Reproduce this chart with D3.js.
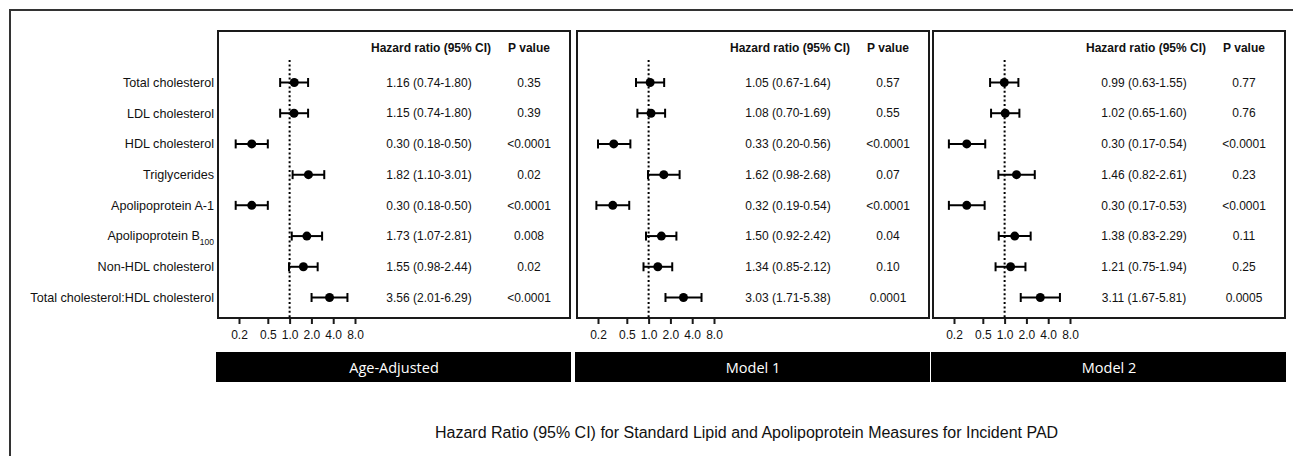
<!DOCTYPE html>
<html>
<head>
<meta charset="utf-8">
<script src="https://cdn.jsdelivr.net/npm/d3@7"></script>
<style>
  body { margin: 0; background: #fff; }
  text { font-family: "Liberation Sans", Arial, sans-serif; fill: #111; }
</style>
</head>
<body>
<script>
// rows of the forest plot
var measures = ["Total cholesterol", "LDL cholesterol", "HDL cholesterol", "Triglycerides",
  "Apolipoprotein A-1", "Apolipoprotein B", "Non-HDL cholesterol", "Total cholesterol:HDL cholesterol"];
var models = ["Age-Adjusted", "Model 1", "Model 2"];

// Age-adjusted
var hrAge  = [1.16, 1.15, 0.30, 1.82, 0.30, 1.73, 1.55, 3.56];
var loAge  = [0.74, 0.74, 0.18, 1.10, 0.18, 1.07, 0.98, 2.01];
var hiAge  = [1.80, 1.80, 0.50, 3.01, 0.50, 2.81, 2.44, 6.29];
var pAge   = ["0.35", "0.39", "<0.0001", "0.02", "<0.0001", "0.008", "0.02", "<0.0001"];
// Model 1
var hrM1   = [1.05, 1.08, 0.33, 1.62, 0.32, 1.50, 1.34, 3.03];
var loM1   = [0.67, 0.70, 0.20, 0.98, 0.19, 0.92, 0.85, 1.71];
var hiM1   = [1.64, 1.69, 0.56, 2.68, 0.54, 2.42, 2.12, 5.38];
var pM1    = ["0.57", "0.55", "<0.0001", "0.07", "<0.0001", "0.04", "0.10", "0.0001"];
// Model 2
var hrM2   = [0.99, 1.02, 0.30, 1.46, 0.30, 1.38, 1.21, 3.11];
var loM2   = [0.63, 0.65, 0.17, 0.82, 0.17, 0.83, 0.75, 1.67];
var hiM2   = [1.55, 1.60, 0.54, 2.61, 0.53, 2.29, 1.94, 5.81];
var pM2    = ["0.77", "0.76", "<0.0001", "0.23", "<0.0001", "0.11", "0.25", "0.0005"];

var tickValues = [0.2, 0.5, 1.0, 2.0, 4.0, 8.0];
var title = "Hazard Ratio (95% CI) for Standard Lipid and Apolipoprotein Measures for Incident PAD";

var Width = 1293, Height = 456;
var panelLeft = [218, 577, 933], panelW = 352, panelTop = 31, panelBottom = 318;

var svg = d3.select("body").append("svg")
  .attr("width", Width)
  .attr("height", Height);

// outer frame (runs off the picture at right and bottom)
svg.append("rect")
  .attr("x", 10).attr("y", 10)
  .attr("width", 1300).attr("height", 460)
  .attr("fill", "none").attr("stroke", "#333").attr("stroke-width", 2);

var y = d3.scalePoint().domain(measures).range([82.5, 297.5]);

// row labels
svg.selectAll(".rowlab").data(measures).enter().append("text")
  .attr("class", "rowlab")
  .attr("x", 214)
  .attr("y", function(d) { return y(d); })
  .attr("dy", "0.35em")
  .attr("text-anchor", "end")
  .style("font-size", "12.6px")
  .each(function(d) {
    var t = d3.select(this);
    t.append("tspan").text(d);
    if (d == "Apolipoprotein B") {
      t.append("tspan").text("100").attr("baseline-shift", "sub").style("font-size", "8.5px");
    }
  });

var sets = [
  { hr: hrAge, lo: loAge, hi: hiAge, p: pAge },
  { hr: hrM1, lo: loM1, hi: hiM1, p: pM1 },
  { hr: hrM2, lo: loM2, hi: hiM2, p: pM2 }
];

models.forEach(function(name, m) {
  var left = panelLeft[m];
  var s = sets[m];
  var g = svg.append("g");

  var x = d3.scaleLog().domain([0.2, 8]).range([left + 21, left + 137]);

  // panel frame
  g.append("rect")
    .attr("x", left).attr("y", panelTop)
    .attr("width", panelW).attr("height", panelBottom - panelTop)
    .attr("fill", "none").attr("stroke", "#1a1a1a").attr("stroke-width", 2);

  // reference line at 1.0
  g.append("line")
    .attr("x1", x(1)).attr("x2", x(1))
    .attr("y1", 60).attr("y2", panelBottom)
    .attr("stroke", "#000").attr("stroke-width", 2)
    .attr("stroke-dasharray", "2,2.4");

  // axis
  var axis = d3.axisBottom(x)
    .tickValues(tickValues)
    .tickFormat(d3.format(".1f"))
    .tickSize(6)
    .tickSizeOuter(0);
  var ax = g.append("g")
    .attr("transform", "translate(0," + panelBottom + ")")
    .call(axis);
  ax.select(".domain").remove();
  ax.selectAll(".tick line").attr("stroke", "#1a1a1a").attr("stroke-width", 2);
  ax.selectAll(".tick text")
    .attr("y", 12)
    .style("font-size", "12px")
    .style("font-family", "'Liberation Sans', Arial, sans-serif")
    .attr("fill", "#222");

  // headers
  g.append("text")
    .attr("x", left + 213).attr("y", 47.5).attr("dy", "0.35em")
    .attr("text-anchor", "middle")
    .style("font-size", "12px").style("font-weight", "bold")
    .text("Hazard ratio (95% CI)");
  g.append("text")
    .attr("x", left + 311).attr("y", 47.5).attr("dy", "0.35em")
    .attr("text-anchor", "middle")
    .style("font-size", "12px").style("font-weight", "bold")
    .text("P value");

  var rows = measures.map(function(d, i) {
    return { name: d, hr: s.hr[i], lo: s.lo[i], hi: s.hi[i], p: s.p[i] };
  });

  var row = g.selectAll(".row").data(rows).enter().append("g")
    .attr("transform", function(d) { return "translate(0," + y(d.name) + ")"; });

  row.append("line")
    .attr("x1", function(d) { return x(d.lo); })
    .attr("x2", function(d) { return x(d.hi); })
    .attr("stroke", "#000").attr("stroke-width", 2);
  row.append("line")
    .attr("x1", function(d) { return x(d.lo); })
    .attr("x2", function(d) { return x(d.lo); })
    .attr("y1", -4.5).attr("y2", 4.5)
    .attr("stroke", "#000").attr("stroke-width", 2);
  row.append("line")
    .attr("x1", function(d) { return x(d.hi); })
    .attr("x2", function(d) { return x(d.hi); })
    .attr("y1", -4.5).attr("y2", 4.5)
    .attr("stroke", "#000").attr("stroke-width", 2);
  row.append("circle")
    .attr("cx", function(d) { return x(d.hr); })
    .attr("r", 4.5)
    .attr("fill", "#000");

  row.append("text")
    .attr("x", left + 211).attr("dy", "0.35em")
    .attr("text-anchor", "middle")
    .style("font-size", "12px")
    .text(function(d) { return d.hr.toFixed(2) + " (" + d.lo.toFixed(2) + "-" + d.hi.toFixed(2) + ")"; });
  row.append("text")
    .attr("x", left + 311).attr("dy", "0.35em")
    .attr("text-anchor", "middle")
    .style("font-size", "12px")
    .text(function(d) { return d.p; });

  // black model band
  g.append("rect")
    .attr("x", left - 2).attr("y", 352)
    .attr("width", panelW + 3).attr("height", 30)
    .attr("fill", "#000");
  g.append("text")
    .attr("x", left + panelW / 2).attr("y", 367.5).attr("dy", "0.36em")
    .attr("text-anchor", "middle")
    .style("font-family", "'Open Sans', sans-serif")
    .style("font-size", "14.5px")
    .style("fill", "#fff")
    .text(name);
});

svg.append("text")
  .attr("x", 435).attr("y", 432).attr("dy", "0.35em")
  .attr("text-anchor", "start")
  .style("font-size", "16px")
  .text(title);
</script>
</body>
</html>
